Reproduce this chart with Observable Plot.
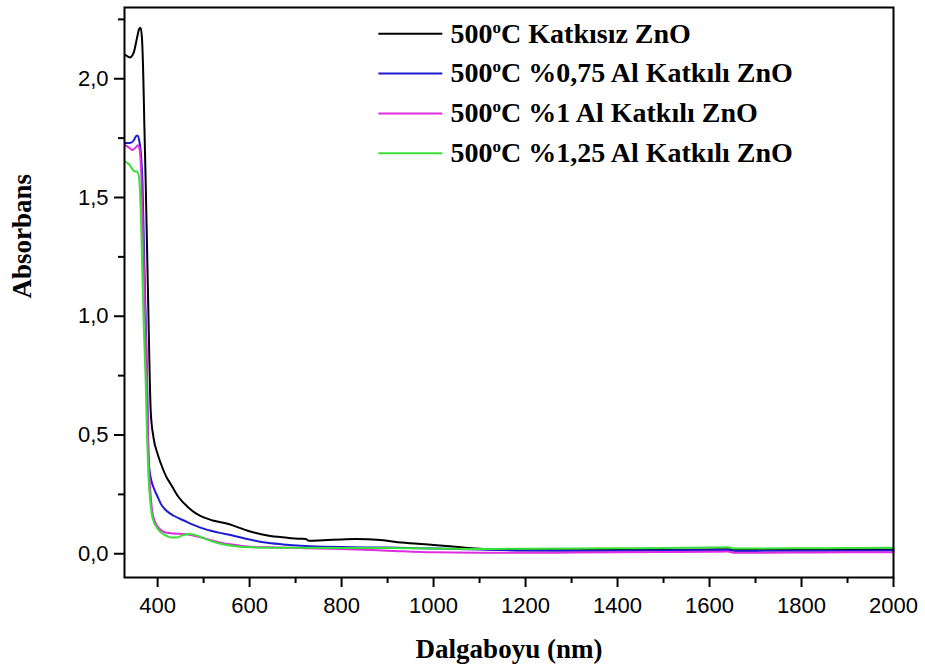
<!DOCTYPE html>
<html><head><meta charset="utf-8">
<script src="https://cdn.jsdelivr.net/npm/d3@7"></script>
<script src="https://cdn.jsdelivr.net/npm/@observablehq/plot@0.6"></script>
<style>body{margin:0;background:#fff}</style>
</head><body><div id="chart"></div>
<script>
const seriesNames = [
  "500°C Katkısız ZnO",
  "500°C %0,75 Al Katkılı ZnO",
  "500°C %1 Al Katkılı ZnO",
  "500°C %1,25 Al Katkılı ZnO"
];
const seriesColors = ["#000000", "#1c1cd4", "#e02ce0", "#38e038"];

const wlBlack  = [330,340,348,355,360,363,366,369,371,374,377,380,383,385,391,400,407,420,428,445,465,480,493,520,552,596,639,680,711,722,728,760,800,830,885,930,1000,1060,1140,1200,1300,1400,1500,1600,1640,1650,1700,1800,1900,2000];
const absBlack = [2.10,2.09,2.11,2.17,2.21,2.215,2.17,2.0,1.82,1.57,1.29,1.01,0.73,0.60,0.49,0.42,0.38,0.32,0.295,0.24,0.198,0.174,0.159,0.14,0.126,0.097,0.077,0.068,0.063,0.062,0.055,0.057,0.060,0.062,0.058,0.047,0.037,0.027,0.017,0.015,0.015,0.016,0.017,0.018,0.019,0.016,0.016,0.017,0.018,0.018];

const wlBlue  = [330,340,348,354,357,360,363,365,367,370,373,377,379,381,385,391,400,407,420,435,457,493,530,565,600,639,680,711,760,800,900,1000,1100,1200,1300,1400,1500,1600,1640,1655,1700,1800,1900,2000];
const absBlue = [1.73,1.73,1.74,1.76,1.76,1.74,1.70,1.65,1.57,1.32,1.07,0.73,0.50,0.38,0.32,0.28,0.24,0.21,0.18,0.16,0.14,0.11,0.09,0.076,0.06,0.046,0.038,0.034,0.030,0.028,0.026,0.022,0.018,0.014,0.013,0.013,0.014,0.015,0.016,0.012,0.012,0.013,0.013,0.014];

const wlMagenta  = [330,338,345,352,357,360,363,365,368,371,374,377,379,382,386,390,400,410,421,435,457,493,530,565,600,639,711,800,900,1000,1100,1200,1300,1400,1500,1600,1640,1655,1700,1800,1900,2000];
const absMagenta = [1.72,1.71,1.70,1.71,1.72,1.71,1.66,1.57,1.36,1.15,0.94,0.73,0.50,0.33,0.22,0.16,0.115,0.095,0.088,0.085,0.083,0.069,0.05,0.038,0.03,0.027,0.024,0.02,0.013,0.006,0.004,0.004,0.005,0.006,0.007,0.008,0.009,0.004,0.004,0.005,0.006,0.006];

const wlGreen  = [330,338,345,350,355,358,361,364,367,370,374,377,380,384,389,400,407,421,430,440,455,468,480,500,530,565,602,700,800,900,1000,1100,1200,1300,1400,1500,1600,1640,1655,1700,1800,1900,2000];
const absGreen = [1.65,1.64,1.62,1.61,1.61,1.60,1.55,1.40,1.17,0.95,0.73,0.50,0.33,0.22,0.15,0.105,0.09,0.074,0.068,0.068,0.078,0.083,0.08,0.065,0.045,0.033,0.027,0.025,0.024,0.024,0.022,0.020,0.021,0.022,0.023,0.024,0.026,0.027,0.022,0.022,0.023,0.024,0.025];

const xMajorTicks = [400,600,800,1000,1200,1400,1600,1800,2000];
const xMinorTicks = [500,700,900,1100,1300,1500,1700,1900];
const yMajorTicks = [0,0.5,1,1.5,2];
const yMinorTicks = [0.25,0.75,1.25,1.75,2.25];

const xLabel = "Dalgaboyu (nm)";
const yLabel = "Absorbans";

const wls = [wlBlack, wlBlue, wlMagenta, wlGreen];
const abss = [absBlack, absBlue, absMagenta, absGreen];
const rows = [];
seriesNames.forEach((name, i) => {
  wls[i].forEach((w, j) => rows.push({series: name, wl: w, a: abss[i][j]}));
});

// legend layout (data-space placement inside the frame)
const legendX1 = 880, legendX2 = 1019, legendTextX = 1037, legendTop = 2.19, legendStep = 0.168;
const legend = seriesNames.map((name, i) => ({name, color: seriesColors[i], y: legendTop - i * legendStep}));

const serif = "'Liberation Serif', 'Times New Roman', serif";
const fmt = d => d.toFixed(1).replace(".", ",");

const chart = Plot.plot({
  width: 925, height: 672,
  marginLeft: 124, marginRight: 32, marginTop: 7, marginBottom: 95,
  style: {fontFamily: "'Liberation Sans', Arial, sans-serif", fontSize: "22px", color: "#000", background: "#fff"},
  x: {domain: [328, 2000]},
  y: {domain: [-0.1, 2.3]},
  color: {domain: seriesNames, range: seriesColors},
  marks: [
    Plot.axisX({ticks: xMajorTicks, tickSize: 10, tickPadding: 10, strokeWidth: 2, label: null, tickFormat: d => String(d)}),
    Plot.axisX({ticks: xMinorTicks, tickSize: 6, strokeWidth: 2, label: null, tickFormat: () => ""}),
    Plot.axisY({ticks: yMajorTicks, tickSize: 10, tickPadding: 6, strokeWidth: 2, label: null, tickFormat: fmt}),
    Plot.axisY({ticks: yMinorTicks, tickSize: 6, strokeWidth: 2, label: null, tickFormat: () => ""}),
    Plot.line(rows, {x: "wl", y: "a", z: "series", stroke: "series", strokeWidth: 2, curve: "monotone-x"}),
    Plot.frame({stroke: "#000", strokeWidth: 2}),
    Plot.link(legend, {x1: () => legendX1, x2: () => legendX2, y1: "y", y2: "y", stroke: "color", strokeWidth: 2}),
    Plot.text(legend, {x: () => legendTextX, y: "y", text: "name", textAnchor: "start", fontFamily: serif, fontWeight: "bold", fontSize: 28, fill: "#000"}),
    Plot.text([xLabel], {frameAnchor: "bottom", dy: 80, text: d => d, fontFamily: serif, fontWeight: "bold", fontSize: 27, fill: "#000"}),
    Plot.text([yLabel], {frameAnchor: "left", dx: -102, dy: 6, rotate: -90, text: d => d, fontFamily: serif, fontWeight: "bold", fontSize: 27, fill: "#000"})
  ]
});
document.getElementById("chart").appendChild(chart);

// render the "o" in 500°C as a superscript, as in the reference
d3.select(chart).selectAll("text").each(function() {
  const t = this.textContent;
  if (t.startsWith("500°")) {
    const sel = d3.select(this);
    this.textContent = "";
    sel.append("tspan").text("500");
    sel.append("tspan").attr("font-size", "17px").attr("dy", "-10px").text("o");
    sel.append("tspan").attr("dy", "10px").text(t.slice(4));
  }
});
</script>
</body></html>
